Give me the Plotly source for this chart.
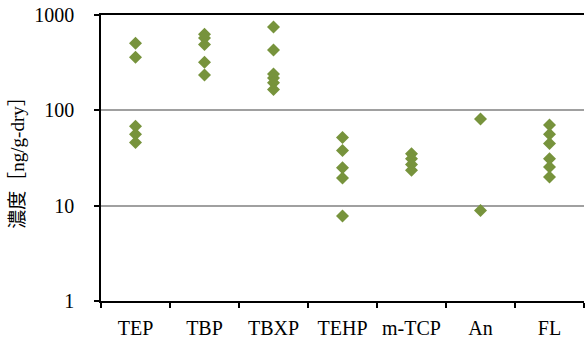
import plotly.graph_objects as go

categories = ["TEP", "TBP", "TBXP", "TEHP", "m-TCP", "An", "FL"]
values = {
    "TEP": [505, 360, 68, 56, 46],
    "TBP": [630, 575, 490, 320, 235],
    "TBXP": [750, 430, 240, 218, 195, 165],
    "TEHP": [52, 38, 25, 19.5, 7.8],
    "m-TCP": [35, 31, 27, 23.5],
    "An": [81, 8.9],
    "FL": [70, 56, 45, 31, 25.5, 20],
}
y_ticks = [1, 10, 100, 1000]

xs, ys = [], []
for c in categories:
    for v in values[c]:
        xs.append(c)
        ys.append(v)

fig = go.Figure()
fig.add_trace(go.Scatter(
    x=xs, y=ys, mode="markers",
    marker=dict(symbol="diamond", size=10, color="#77933C", line=dict(width=0)),
    showlegend=False, cliponaxis=False,
))

serif = "Times New Roman, Noto Sans CJK JP"
fig.update_layout(
    width=585, height=349,
    margin=dict(l=101, r=1, t=15, b=48),
    paper_bgcolor="white", plot_bgcolor="white",
    font=dict(family=serif, size=20, color="black"),
    xaxis=dict(
        type="category", categoryorder="array", categoryarray=categories,
        range=[-0.5, 6.5], showgrid=False, automargin=False,
        showline=True, linecolor="black", linewidth=1.5, mirror=True,
        ticks="outside", tickson="boundaries", ticklen=5, tickcolor="black", tickwidth=1.5,
        ticklabelstandoff=8, zeroline=False,
        tickfont=dict(family=serif, size=20, color="black"),
    ),
    yaxis=dict(
        type="log", range=[0, 3], automargin=False,
        tickvals=y_ticks, ticktext=[str(t) for t in y_ticks],
        showgrid=True, gridcolor="#a0a0a0", gridwidth=1.5,
        showline=True, linecolor="black", linewidth=1.5,
        ticks="outside", ticklen=5, tickcolor="black", tickwidth=1.5,
        ticklabelstandoff=16, zeroline=False,
        tickfont=dict(family=serif, size=20, color="black"),
        title=dict(text="濃度［ng/g-dry］", standoff=5,
                   font=dict(family=serif, size=19, color="black")),
    ),
)

fig.write_html("out.html", config={"displayModeBar": False},
               post_script="document.body.style.margin='0';")
